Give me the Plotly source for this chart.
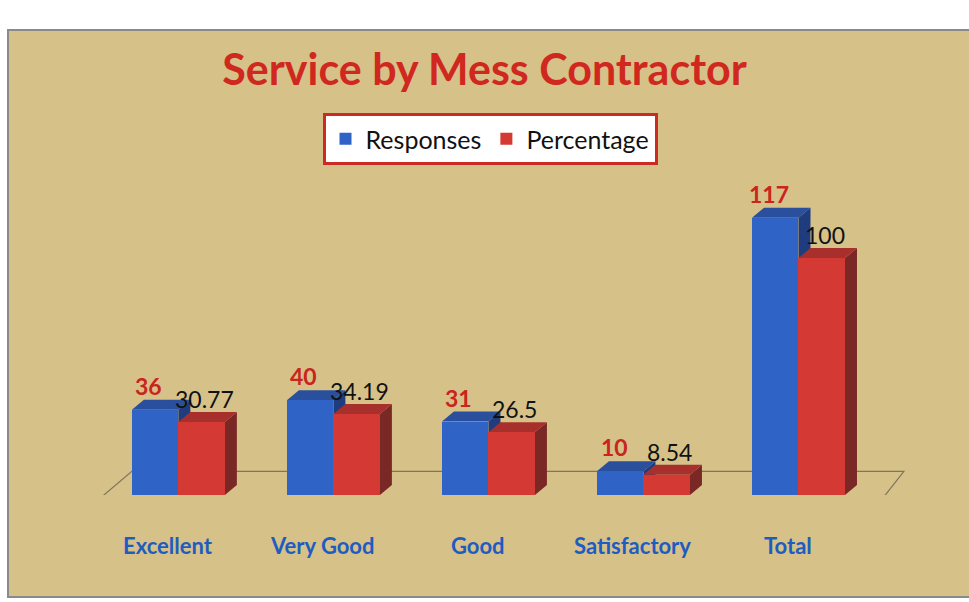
import plotly.graph_objects as go

# Survey data
categories = ["Excellent", "Very Good", "Good", "Satisfactory", "Total"]
responses = [36, 40, 31, 10, 117]
percentage = [30.77, 34.19, 26.5, 8.54, 100]
percentage_labels = ["30.77", "34.19", "26.5", "8.54", "100"]

W, H = 969, 602
ML, MR, MT, MB = 90, 62, 187, 107
X_RANGE = [-0.57, 4.70]
Y_RANGE = [0, 130]

plot_w = W - ML - MR
plot_h = H - MT - MB
px_per_x = plot_w / (X_RANGE[1] - X_RANGE[0])
px_per_y = plot_h / (Y_RANGE[1] - Y_RANGE[0])

BAR_W = 0.30
DEPTH_X = 12 / px_per_x   # depth of the 3D faces, in axis units
DEPTH_Y = 10 / px_per_y

BLUE, BLUE_TOP, BLUE_SIDE = "#2f63c6", "#2a4f9c", "#1e3c7e"
RED, RED_TOP, RED_SIDE = "#d43a33", "#a8302c", "#7a2826"
TAN = "#d6c189"


def px_to_paper_x(px):
    return (px - ML) / plot_w


def px_to_paper_y(py):
    return (H - MB - py) / plot_h


xs = list(range(len(categories)))
x_resp = [x - BAR_W / 2 for x in xs]
x_pct = [x + BAR_W / 2 for x in xs]

fig = go.Figure()
fig.add_trace(go.Bar(x=x_resp, y=responses, width=BAR_W, name="Responses",
                     marker=dict(color=BLUE, line=dict(width=0))))
fig.add_trace(go.Bar(x=x_pct, y=percentage, width=BAR_W, name="Percentage",
                     marker=dict(color=RED, line=dict(width=0))))


def poly(pts):
    return "M " + " L ".join(f"{a},{b}" for a, b in pts) + " Z"


shapes = []
# chart panel
shapes.append(dict(type="rect", xref="paper", yref="paper", layer="below",
                   x0=px_to_paper_x(8), x1=px_to_paper_x(975),
                   y0=px_to_paper_y(597), y1=px_to_paper_y(30),
                   fillcolor=TAN, line=dict(color="#8a8a8a", width=2)))
# floor
fl = [(-0.57, -5), (X_RANGE[1] - 0.2, -5),
      (X_RANGE[1] - 0.02, 10), (-0.3, 10)]
shapes.append(dict(type="path", path=poly(fl), layer="below",
                   fillcolor="rgba(0,0,0,0)",
                   line=dict(color="#7d7560", width=1.2)))


def faces(xc, v, top, side):
    x0, x1 = xc - BAR_W / 2, xc + BAR_W / 2
    s = [(x1, 0), (x1 + DEPTH_X, DEPTH_Y), (x1 + DEPTH_X, v + DEPTH_Y), (x1, v)]
    t = [(x0, v), (x0 + DEPTH_X, v + DEPTH_Y), (x1 + DEPTH_X, v + DEPTH_Y), (x1, v)]
    return [dict(type="path", path=poly(s), layer="below", fillcolor=side,
                 line=dict(width=0)),
            dict(type="path", path=poly(t), layer="below", fillcolor=top,
                 line=dict(width=0))]


for i in xs:
    shapes += faces(x_resp[i], responses[i], BLUE_TOP, BLUE_SIDE)
    shapes += faces(x_pct[i], percentage[i], RED_TOP, RED_SIDE)

annotations = []
for i in xs:
    annotations.append(dict(x=x_resp[i] - 0.04, y=responses[i], text=f"<b>{responses[i]}</b>",
                            showarrow=False, yanchor="bottom", yshift=8,
                            font=dict(family="Lato", size=23, color="#c9251c")))
    annotations.append(dict(x=x_pct[i] + 0.02, y=percentage[i], text=percentage_labels[i],
                            showarrow=False, yanchor="bottom", yshift=7,
                            font=dict(family="Lato", size=23, color="#111111")))
    # category label under each pair of bars
    annotations.append(dict(x=i - 0.07, y=0, yref="y", text=f"<b>{categories[i]}</b>",
                            showarrow=False, yanchor="middle", yshift=-50,
                            font=dict(family="Lato", size=22, color="#1f5cc0")))

fig.update_layout(
    width=W, height=H,
    margin=dict(l=ML, r=MR, t=MT, b=MB),
    paper_bgcolor="white",
    plot_bgcolor="rgba(0,0,0,0)",
    bargap=0, barmode="overlay",
    shapes=shapes,
    annotations=annotations,
    title=dict(text="<b>Service by Mess Contractor</b>", x=0.5, xanchor="center",
               y=1 - 70 / H, yanchor="middle",
               font=dict(family="Lato", size=43, color="#d0281e")),
    legend=dict(orientation="h", x=px_to_paper_x(490), xanchor="center",
                y=px_to_paper_y(139), yanchor="middle",
                bgcolor="white", bordercolor="#cc2a24", borderwidth=3,
                font=dict(family="Lato", size=25, color="#111111"),
                itemwidth=30),
    xaxis=dict(range=X_RANGE, showticklabels=False,
               showgrid=False, zeroline=False, showline=False, ticks=""),
    yaxis=dict(range=Y_RANGE, visible=False),
    showlegend=True,
)

fig.write_html("out.html")
